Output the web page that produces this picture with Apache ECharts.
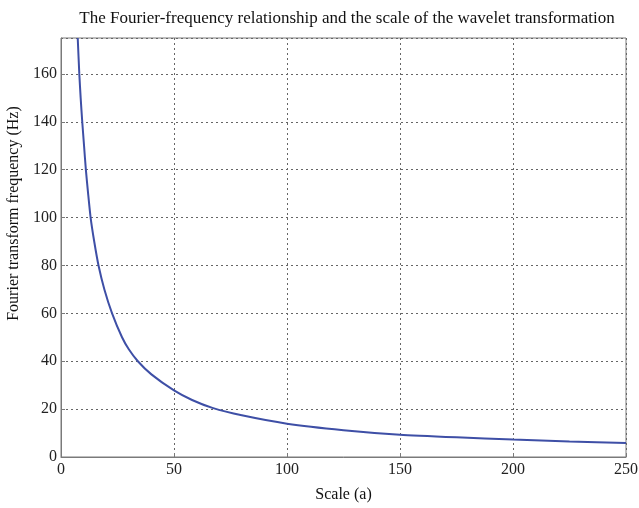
<!DOCTYPE html>
<html>
<head>
<meta charset="UTF-8">
<title>Fourier frequency vs wavelet scale</title>
<script src="https://cdn.jsdelivr.net/npm/echarts@6/dist/echarts.min.js"></script>
<style>
  html, body { margin: 0; padding: 0; background: #fff; }
  #chart { width: 639px; height: 508px; }
</style>
</head>
<body>
<div id="chart"></div>
<script>
// scale a (x) and Fourier frequency in Hz (y)
var scaleA = [7.4, 8.1, 8.7, 9.4, 10.2, 11, 12, 13.1, 14.7, 16.6, 19.2, 22.6, 27, 30, 34, 40, 50, 58, 67, 80, 100, 125, 150, 175, 200, 225, 250];
var freqHz = [175, 160, 150, 140, 130, 120, 110, 100, 90, 80, 70, 60, 50, 45, 40, 34.5, 27.8, 23.8, 20.5, 17.4, 13.9, 11.2, 9.3, 8.2, 7.3, 6.5, 5.8];
var xTicks = [0, 50, 100, 150, 200, 250];

var points = scaleA.map(function (a, i) { return [a, freqHz[i]]; });

var chart = echarts.init(document.getElementById('chart'));
var serif = '"Liberation Serif", "DejaVu Serif", serif';

var option = {
    backgroundColor: '#fff',
    animation: false,
    title: {
        text: 'The Fourier-frequency relationship and the scale of the wavelet transformation',
        left: 342,
        textAlign: 'center',
        top: 5,
        textStyle: { fontFamily: serif, fontSize: 17, fontWeight: 'normal', color: '#111' }
    },
    grid: {
        left: 61, right: 13, top: 38, bottom: 51,
        outerBoundsMode: 'none',
        show: true, borderColor: '#7a7a7a', borderWidth: 1
    },
    xAxis: {
        type: 'value',
        min: xTicks[0],
        max: xTicks[xTicks.length - 1],
        interval: 50,
        name: 'Scale (a)',
        nameLocation: 'middle',
        nameGap: 30,
        nameTextStyle: { fontFamily: serif, fontSize: 16, color: '#111' },
        axisLine: { lineStyle: { color: '#7a7a7a' } },
        axisTick: { inside: true, length: 4, lineStyle: { color: '#7a7a7a' } },
        axisLabel: { fontFamily: serif, fontSize: 16, color: '#222', margin: 5 },
        splitLine: { show: true, lineStyle: { type: [2, 3], color: '#666' } }
    },
    yAxis: {
        type: 'value',
        min: 0,
        max: 175,
        interval: 20,
        name: 'Fourier transform frequency (Hz)',
        nameLocation: 'middle',
        nameGap: 35,
        nameRotate: 90,
        nameTextStyle: { fontFamily: serif, fontSize: 16, color: '#111', padding: [0, 0, 0, 68] },
        axisLine: { show: true, lineStyle: { color: '#7a7a7a' } },
        axisTick: { show: true, inside: true, length: 4, lineStyle: { color: '#7a7a7a' } },
        axisLabel: { fontFamily: serif, fontSize: 16, color: '#222', margin: 4, showMaxLabel: false },
        splitLine: { show: true, lineStyle: { type: [2, 3], color: '#666' } }
    },
    series: [{
        type: 'line',
        data: points,
        showSymbol: false,
        smooth: 0.2,
        clip: true,
        lineStyle: { color: '#3e4fa6', width: 2 }
    }]
};
chart.setOption(option);
</script>
</body>
</html>
